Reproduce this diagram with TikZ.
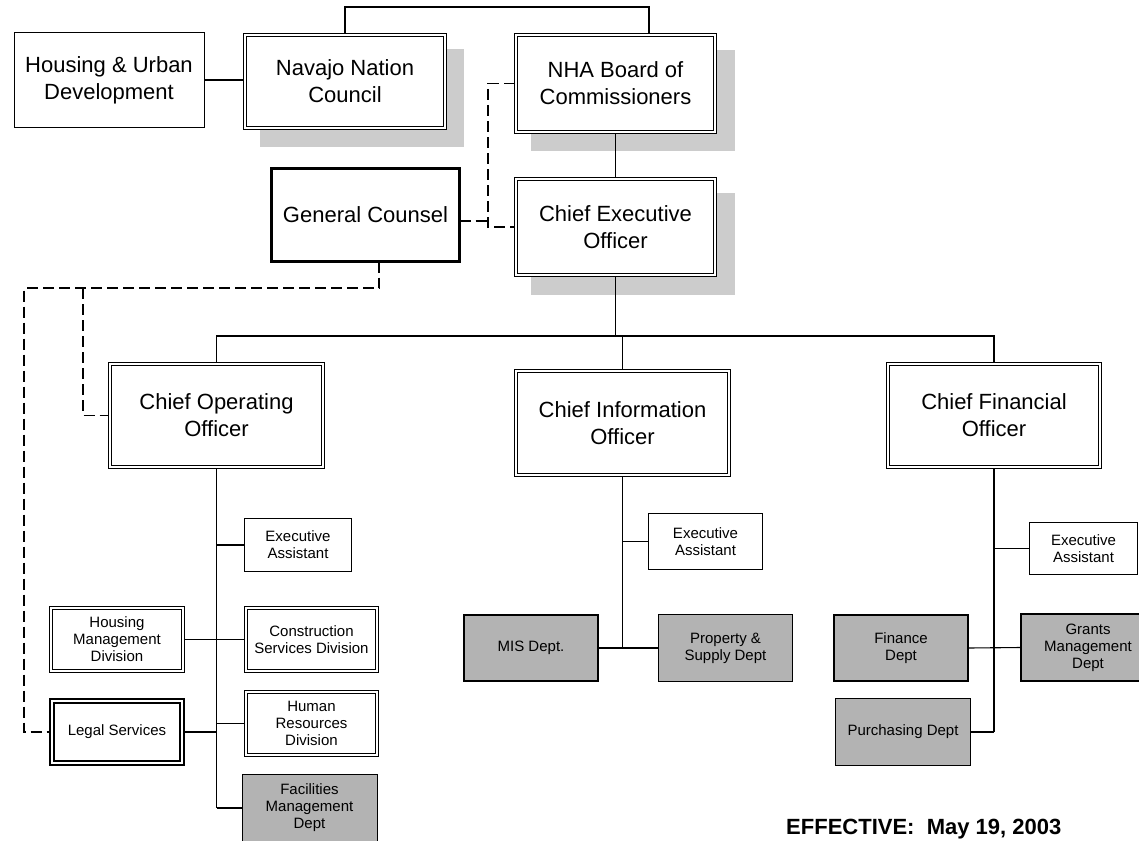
\documentclass[tikz,border=0pt]{standalone}
\usepackage{fontspec}
\setmainfont{Liberation Sans}
\definecolor{shadowgray}{HTML}{CCCCCC}
\definecolor{boxgray}{HTML}{B3B3B3}
\tikzset{
 box/.style={rectangle, draw=black, align=center, inner sep=0pt, outer sep=0pt, text=black, fill=white},
 big/.style={box, font=\fontsize{22}{27}\selectfont},
 small/.style={box, font=\fontsize{15}{17}\selectfont},
 dbl/.style={line width=1pt},
 innerline/.style={draw=black, line width=1.4pt},
 innerheavy/.style={draw=black, line width=1.8pt},
 sgl/.style={line width=1pt},
 heavy/.style={line width=3pt},
 dblheavy/.style={line width=2pt},
 grayfill/.style={fill=boxgray, line width=1pt},
 grayheavy/.style={fill=boxgray, line width=2pt},
 wire/.style={line width=1.1pt},
 trunk/.style={line width=1.6pt},
 dsh/.style={line width=1.2pt, dash pattern=on 11pt off 5pt},
}
\begin{document}
\begin{tikzpicture}[x=1pt,y=-1pt]
\useasboundingbox (0,0) rectangle (1139,840);
\clip (0,0) rectangle (1139,840);
% shadows
\fill[shadowgray] (260,49) rectangle (464,147);
\fill[shadowgray] (531,50) rectangle (735,151);
\fill[shadowgray] (531,193) rectangle (735,295);
% top level
\node[big, sgl, minimum width=190pt, minimum height=94pt] (HUD) at (109,80) {Housing \& Urban\\Development};
\node[big, dbl, minimum width=203pt, minimum height=96pt] (NNC) at (345,81.5) {Navajo Nation\\Council};
\node[big, dbl, minimum width=202pt, minimum height=100pt] (NHA) at (615.5,83.5) {NHA Board of\\Commissioners};
\node[big, dbl, minimum width=202pt, minimum height=99pt] (CEO) at (615.5,227) {Chief Executive\\Officer};
\node[big, heavy, minimum width=188pt, minimum height=93pt] (GC) at (365.5,215) {General Counsel};
% officers
\node[big, dbl, minimum width=216pt, minimum height=106pt] (COO) at (216.5,415.5) {Chief Operating\\Officer};
\node[big, dbl, minimum width=216pt, minimum height=107pt] (CIO) at (622.5,423) {Chief Information\\Officer};
\node[big, dbl, minimum width=215pt, minimum height=106pt] (CFO) at (994,415.5) {Chief Financial\\Officer};
% COO branch
\node[small, sgl, minimum width=107pt, minimum height=53pt] (EA1) at (298,545) {Executive\\Assistant};
\node[small, dbl, minimum width=135pt, minimum height=66pt] (HMD) at (117,639.5) {Housing\\Management\\Division};
\node[small, dbl, minimum width=134pt, minimum height=66pt] (CSD) at (311.5,639.5) {Construction\\Services Division};
\node[small, dblheavy, minimum width=134pt, minimum height=66pt] (LS) at (117,732) {Legal Services};
\node[small, dbl, minimum width=134pt, minimum height=66pt] (HRD) at (311.5,723.5) {Human\\Resources\\Division};
\node[small, grayfill, minimum width=135pt, minimum height=68pt] (FMD) at (309.5,808) {Facilities\\Management\\Dept};
% CIO branch
\node[small, sgl, minimum width=114pt, minimum height=56pt] (EA2) at (705.5,541.5) {Executive\\Assistant};
\node[small, grayheavy, minimum width=134pt, minimum height=66pt] (MIS) at (531,648) {MIS Dept.};
\node[small, grayfill, minimum width=134pt, minimum height=67pt] (PSD) at (725.5,648) {Property \&\\Supply Dept};
% CFO branch
\node[small, sgl, minimum width=108pt, minimum height=52pt] (EA3) at (1083.5,548.5) {Executive\\Assistant};
\node[small, grayheavy, minimum width=134pt, minimum height=66pt] (FIN) at (901,648) {Finance\\Dept};
\node[small, grayheavy, minimum width=134pt, minimum height=67pt] (GMD) at (1088,647.5) {Grants\\Management\\Dept};
\node[small, grayfill, minimum width=135pt, minimum height=67pt] (PUR) at (903,732) {Purchasing Dept};
% inner lines of double borders
\foreach \n in {NNC,NHA,CEO,COO,CIO,CFO,HMD,CSD,HRD}
  \draw[innerline] ([shift={(3.2pt,-3.2pt)}]\n.north west) rectangle ([shift={(-3.2pt,3.2pt)}]\n.south east);
\draw[innerheavy] ([shift={(4pt,-4pt)}]LS.north west) rectangle ([shift={(-4pt,4pt)}]LS.south east);
% date
\node[anchor=base west, inner sep=0pt, font=\bfseries\fontsize{22}{26}\selectfont] (eff) at (786,834.5) {EFFECTIVE:\ \ May 19, 2003};
% coordinates
\coordinate (topbend) at (345,7);
\coordinate (bus) at (217,336);
\coordinate (dv) at (488,221);
\coordinate (dl) at (24,288);
\coordinate (dm) at (83,288);
% solid connectors
\draw[wire] (HUD.east) -- (HUD.east -| NNC.west);
\draw[wire] (NNC.north) -- (topbend) -| ([xshift=33.5pt]NHA.north);
\draw[wire] (NHA.south) -- (CEO.north);
\draw[trunk] (CEO.south) -- (CEO.south |- bus);
\draw[wire] (COO.north) -- (COO.north |- bus) -- (CFO.north |- bus) -- (CFO.north);
\draw[wire] (CIO.north) -- (CIO.north |- bus);
% COO
\draw[trunk] (COO.south) -- (COO.south |- FMD.west);
\draw[wire] (EA1.west -| COO.south) -- (EA1.west);
\draw[wire] (HMD.east) -- (CSD.west);
\draw[wire] (LS.east) -- (LS.east -| COO.south);
\draw[wire] (HRD.west -| COO.south) -- (HRD.west);
\draw[wire] (FMD.west -| COO.south) -- (FMD.west);
% CIO
\draw[wire] (CIO.south) -- (CIO.south |- MIS.east);
\draw[wire] (EA2.west -| CIO.south) -- (EA2.west);
\draw[wire] (MIS.east) -- (PSD.west);
% CFO
\draw[trunk] (CFO.south) -- (CFO.south |- PUR.east);
\draw[wire] (EA3.west -| CFO.south) -- (EA3.west);
\draw[wire] (FIN.east) -- (GMD.west);
\draw[wire] (PUR.east) -- (PUR.east -| CFO.south);
% dashed
\draw[dsh] ([yshift=-6pt]GC.east) -- (dv);
\draw[dsh] (NHA.west) -| (CEO.west -| dv) -- (CEO.west);
\draw[dsh] ([xshift=13.5pt]GC.south) |- (dl) |- (LS.west);
\draw[dsh] (dm) |- (COO.west);
\end{tikzpicture}
\end{document}
